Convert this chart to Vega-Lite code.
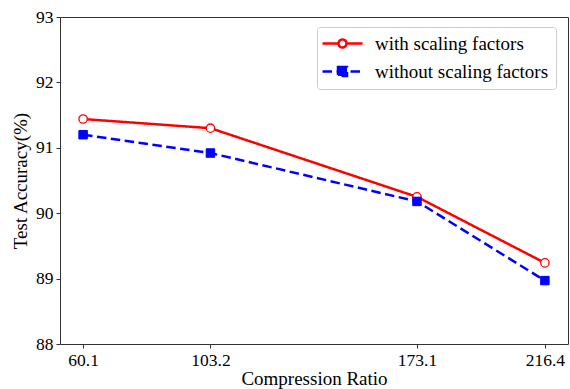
{
  "$schema": "https://vega.github.io/schema/vega-lite/v6.json",
  "width": 508,
  "height": 327,
  "autosize": {"type": "none"},
  "padding": {"left": 60, "top": 17, "right": 2, "bottom": 45},
  "background": "white",
  "config": {
    "view": {"stroke": "#333333", "strokeWidth": 1},
    "font": "Liberation Serif",
    "axis": {
      "labelFont": "Liberation Serif",
      "titleFont": "Liberation Serif",
      "labelFontSize": 17.5,
      "titleFontSize": 19,
      "titleFontWeight": "normal",
      "labelColor": "#000000",
      "titleColor": "#000000",
      "domain": false,
      "grid": false,
      "tickColor": "#333333",
      "tickSize": 4,
      "tickWidth": 1,
      "labelPadding": 3
    },
    "legend": {
      "labelFont": "Liberation Serif",
      "labelFontSize": 19,
      "labelColor": "#000000",
      "labelLimit": 400
    }
  },
  "data": {
    "values": [
      {"ratio": 60.1, "acc": 91.44, "s": "with scaling factors"},
      {"ratio": 103.2, "acc": 91.30, "s": "with scaling factors"},
      {"ratio": 173.1, "acc": 90.25, "s": "with scaling factors"},
      {"ratio": 216.4, "acc": 89.24, "s": "with scaling factors"},
      {"ratio": 60.1, "acc": 91.20, "s": "without scaling factors"},
      {"ratio": 103.2, "acc": 90.92, "s": "without scaling factors"},
      {"ratio": 173.1, "acc": 90.18, "s": "without scaling factors"},
      {"ratio": 216.4, "acc": 88.97, "s": "without scaling factors"}
    ]
  },
  "encoding": {
    "x": {
      "field": "ratio",
      "type": "quantitative",
      "scale": {"domain": [52.28, 224.22], "nice": false, "zero": false},
      "axis": {"values": [60.1, 103.2, 173.1, 216.4], "format": ".1f", "title": "Compression Ratio", "titlePadding": 1, "labelFont": "Liberation Serif", "titleFont": "Liberation Serif"}
    },
    "y": {
      "field": "acc",
      "type": "quantitative",
      "scale": {"domain": [88, 93], "nice": false, "zero": false},
      "axis": {"values": [88, 89, 90, 91, 92, 93], "format": "d", "title": "Test Accuracy(%)", "titlePadding": 5, "labelFont": "Liberation Serif", "titleFont": "Liberation Serif"}
    }
  },
  "layer": [
    {
      "mark": {"type": "line", "strokeWidth": 2.5},
      "encoding": {
        "color": {
          "field": "s",
          "type": "nominal",
          "scale": {"domain": ["with scaling factors", "without scaling factors"], "range": ["#ff0000", "#0000ff"]},
          "legend": {
            "title": null,
            "orient": "none",
            "legendX": 257,
            "legendY": 10,
            "padding": 7,
            "rowPadding": 8,
            "strokeColor": "#cccccc",
            "fillColor": "white",
            "cornerRadius": 3,
            "symbolSize": 100,
            "symbolStrokeWidth": 2.5,
            "symbolOffset": 9,
            "labelOffset": 23,
            "labelFont": "Liberation Serif",
            "encode": {
              "symbols": {
                "update": {
                  "shape": {"signal": "datum.value == 'with scaling factors' ? 'M-4,0L-0.8,0M0.8,0L4,0M-0.8,0A0.8,0.8 0 1,1 0.8,0A0.8,0.8 0 1,1 -0.8,0Z' : 'M-4,0L4,0M-0.9,-0.9L0.9,-0.9L0.9,0.9L-0.9,0.9Z'"},
                  "fill": {"signal": "datum.value == 'with scaling factors' ? 'white' : '#0000ff'"},
                  "strokeDash": {"signal": "datum.value == 'with scaling factors' ? [] : [6, 3.5]"}
                }
              }
            }
          }
        },
        "strokeDash": {
          "field": "s",
          "type": "nominal",
          "scale": {"domain": ["with scaling factors", "without scaling factors"], "range": [[1, 0], [9.5, 4.5]]},
          "legend": null
        }
      }
    },
    {
      "transform": [{"filter": "datum.s == 'with scaling factors'"}],
      "mark": {"type": "point", "shape": "circle", "size": 70, "strokeWidth": 1.3, "stroke": "#ff0000", "fill": "#ffffff", "filled": false, "opacity": 1, "fillOpacity": 1}
    },
    {
      "transform": [{"filter": "datum.s == 'without scaling factors'"}],
      "mark": {"type": "point", "shape": "square", "size": 72, "strokeWidth": 1, "stroke": "#0000ff", "fill": "#0000ff", "filled": true, "opacity": 1}
    }
  ]
}
